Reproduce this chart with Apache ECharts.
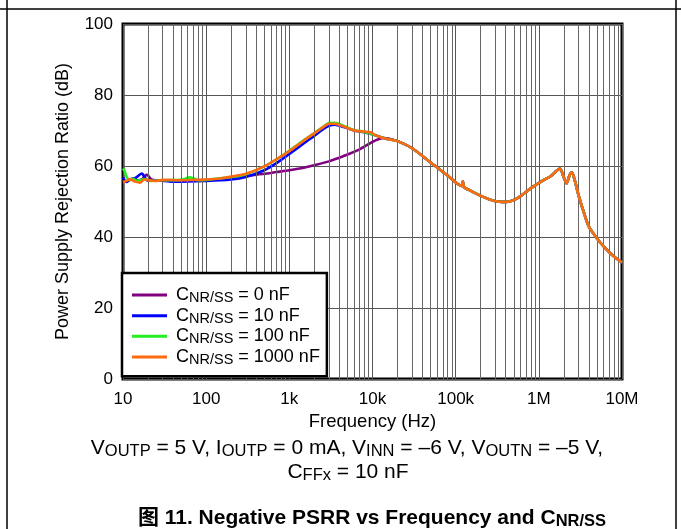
<!DOCTYPE html>
<html>
<head>
<meta charset="utf-8">
<script src="https://cdn.jsdelivr.net/npm/echarts@6/dist/echarts.min.js"></script>
<style>
html,body{margin:0;padding:0;background:#fff;}
#chart{width:681px;height:529px;}
</style>
</head>
<body>
<div id="chart"></div>
<script>
// ---- data ----
const tickValues = [10, 100, 1000, 10000, 100000, 1000000, 10000000];
const tickLabels = ['10', '100', '1k', '10k', '100k', '1M', '10M'];
const seriesNames = ['0 nF', '10 nF', '100 nF', '1000 nF'];
const seriesColors = ['#800080', '#0000ff', '#22ee22', '#ff6a10'];

// 0 nF (low/mid frequency part)
const freq0 = [10, 11, 13, 15, 17, 19, 20, 22, 25, 30, 40, 60, 100, 150, 200, 300, 500, 700, 1000, 1500, 2000, 3000, 4500, 7000, 10000, 12000, 13500, 16000];
const psrr0 = [56.0, 55.6, 56.4, 56.0, 56.3, 57.5, 57.3, 56.2, 56.0, 56.0, 55.9, 56.0, 56.0, 56.2, 56.5, 57.2, 57.8, 58.3, 58.8, 59.5, 60.2, 61.3, 62.8, 64.7, 66.8, 67.6, 67.9, 67.7];

// 10 nF
const freq10 = [10, 11, 12, 14, 16, 17, 18, 20, 25, 40, 100, 200, 300, 500, 700, 1000, 1500, 2000, 2500, 3000, 3500, 4500, 6000, 8000, 11000, 15000];
const psrr10 = [56.8, 55.5, 56.2, 56.6, 57.6, 57.9, 57.0, 55.8, 56.0, 55.6, 55.8, 56.2, 56.9, 58.8, 60.8, 63.4, 66.4, 68.5, 70.2, 71.3, 71.6, 71.0, 70.0, 69.5, 68.6, 67.6];

// 100 nF
const freq100 = [10, 10.5, 11, 12, 13, 15, 18, 22, 30, 50, 64, 80, 100, 200, 300, 500, 700, 1000, 1500, 2000, 2500, 3000, 3500, 4500, 6000, 8000, 11000, 15000];
const psrr100 = [59.3, 58.5, 57.0, 56.0, 56.4, 55.8, 56.3, 55.8, 56.0, 56.1, 56.8, 56.0, 56.1, 56.9, 57.7, 59.9, 61.9, 64.3, 67.3, 69.3, 70.9, 72.1, 72.2, 71.3, 70.1, 69.6, 68.6, 67.6];

// 1000 nF
const freq1000 = [10, 11, 12, 13, 14, 16, 18, 20, 25, 30, 50, 100, 150, 200, 300, 500, 700, 1000, 1500, 2000, 2500, 3000, 3500, 4500, 6000, 8000, 9500, 11000, 15000];
const psrr1000 = [55.4, 55.8, 56.3, 56.0, 55.6, 55.3, 56.2, 56.0, 55.8, 56.1, 56.0, 56.2, 56.5, 57.0, 57.8, 59.9, 61.9, 64.2, 67.2, 69.2, 70.8, 71.9, 71.9, 71.1, 70.0, 69.7, 69.5, 68.6, 67.6];

// shared high-frequency part (all curves coincide)
const freqHigh = [20000, 30000, 50000, 80000, 118000, 122000, 126000, 130000, 200000, 300000, 400000, 550000, 800000, 1100000, 1400000, 1650000, 1800000, 1950000, 2150000, 2350000, 2500000, 2700000, 3000000, 3500000, 4000000, 5000000, 6500000, 8000000, 10000000];
const psrrHigh = [67.0, 65.0, 61.0, 57.3, 54.4, 55.6, 54.0, 53.8, 51.6, 50.1, 49.9, 50.9, 53.7, 55.8, 57.2, 58.7, 59.3, 57.5, 55.1, 57.5, 58.2, 56.0, 51.8, 46.7, 42.9, 39.6, 36.5, 34.5, 32.8];

// ---- build ----
const FONT = '"Liberation Sans", Arial, "Noto Sans CJK SC", sans-serif';
function pairs(f, v) {
  const out = [];
  for (let i = 0; i < f.length; i++) out.push([f[i], v[i]]);
  for (let i = 0; i < freqHigh.length; i++) out.push([freqHigh[i], psrrHigh[i]]);
  return out;
}
const lowF = [freq0, freq10, freq100, freq1000];
const lowV = [psrr0, psrr10, psrr100, psrr1000];

const minorFreqs = [];
for (let d = 0; d < tickValues.length - 1; d++) {
  for (let m = 2; m <= 9; m++) minorFreqs.push(tickValues[d] * m);
}

const chart = echarts.init(document.getElementById('chart'), null, {renderer: 'canvas'});

const series = [{
  name: 'grid',
  type: 'line',
  data: [],
  z: 1,
  silent: true,
  markLine: {
    silent: true,
    symbol: 'none',
    animation: false,
    label: {show: false},
    lineStyle: {color: '#666', width: 1, type: 'solid'},
    data: minorFreqs.map(f => ({xAxis: f}))
  }
}];
for (let i = 0; i < 4; i++) {
  series.push({
    name: seriesNames[i],
    type: 'line',
    data: pairs(lowF[i], lowV[i]),
    showSymbol: false,
    smooth: 0.25,
    z: 2 + i,
    color: seriesColors[i],
    lineStyle: {width: 2.6, color: seriesColors[i]}
  });
}

const capRich = {
  m: {fontSize: 21, lineHeight: 24, fontFamily: FONT, fill: '#000'},
  s: {fontSize: 16.5, lineHeight: 16, verticalAlign: 'bottom', fontFamily: FONT, fill: '#000'}
};

const option = {
  animation: false,
  backgroundColor: '#fff',
  textStyle: {fontFamily: FONT},
  grid: {left: 123, top: 24, width: 499, height: 355, show: true, borderColor: '#000', borderWidth: 3, backgroundColor: '#fff'},
  xAxis: {
    type: 'log', logBase: 10, min: 10, max: 10000000, splitNumber: 6,
    axisLine: {show: false}, axisTick: {show: false},
    axisLabel: {
      margin: 12, fontSize: 17, color: '#000', fontFamily: FONT,
      formatter: v => { const k = Math.round(Math.log10(v)); const idx = tickValues.indexOf(Math.pow(10, k)); return idx >= 0 ? tickLabels[idx] : ''; }
    },
    splitLine: {show: true, lineStyle: {color: '#555', width: 1}},
    name: 'Frequency (Hz)', nameLocation: 'middle', nameGap: 32,
    nameTextStyle: {fontSize: 18.5, color: '#000', fontFamily: FONT}
  },
  yAxis: {
    type: 'value', min: 0, max: 100, interval: 20,
    axisLine: {show: false}, axisTick: {show: false},
    axisLabel: {margin: 10, fontSize: 17, color: '#000', fontFamily: FONT},
    splitLine: {show: true, lineStyle: {color: '#555', width: 1}},
    name: 'Power Supply Rejection Ratio (dB)', nameLocation: 'middle', nameGap: 51,
    nameTextStyle: {fontSize: 18, color: '#000', fontFamily: FONT}
  },
  legend: {
    data: seriesNames,
    orient: 'vertical',
    left: 122, top: 273,
    padding: [13, 7, 9, 10],
    itemGap: 1.3,
    itemWidth: 35, itemHeight: 3,
    itemTextGap: 5,
    icon: 'rect',
    backgroundColor: '#fff',
    borderColor: '#000', borderWidth: 2.5,
    z: 10,
    formatter: name => '{g| }{m|C}{s|NR/SS}{m| = ' + name + '}',
    textStyle: {
      color: '#000', fontFamily: FONT,
      rich: {
        g: {width: 4, fontSize: 18, lineHeight: 20.7},
        m: {fontSize: 18, lineHeight: 20.7, fontFamily: FONT, color: '#000'},
        s: {fontSize: 14.5, lineHeight: 13, verticalAlign: 'bottom', fontFamily: FONT, color: '#000'}
      }
    }
  },
  graphic: [
    {type: 'line', silent: true, shape: {x1: 7, y1: 0, x2: 7, y2: 529}, style: {stroke: '#000', lineWidth: 1.5}},
    {type: 'line', silent: true, shape: {x1: 676, y1: 0, x2: 676, y2: 529}, style: {stroke: '#000', lineWidth: 1.5}},
    {type: 'line', silent: true, shape: {x1: 0, y1: 9, x2: 681, y2: 9}, style: {stroke: '#000', lineWidth: 1.5}},
    {type: 'text', silent: true, x: 347, y: 448, style: {
      text: '{m|V}{s|OUTP}{m| = 5 V, I}{s|OUTP}{m| = 0 mA, V}{s|INN}{m| = \u20136 V, V}{s|OUTN}{m| = \u20135 V,}',
      align: 'center', verticalAlign: 'middle', rich: capRich
    }},
    {type: 'text', silent: true, x: 348, y: 472, style: {
      text: '{m|C}{s|FFx}{m| = 10 nF}',
      align: 'center', verticalAlign: 'middle', rich: capRich
    }},
    {type: 'text', silent: true, x: 372, y: 518, style: {
      text: '{m|\u56fe 11. Negative PSRR vs Frequency and C}{s|NR/SS}',
      align: 'center', verticalAlign: 'middle',
      rich: {
        m: {fontSize: 21, fontWeight: 'bold', lineHeight: 24, fontFamily: FONT, fill: '#000'},
        s: {fontSize: 16.5, fontWeight: 'bold', lineHeight: 16, verticalAlign: 'bottom', fontFamily: FONT, fill: '#000'}
      }
    }}
  ],
  series: series
};
chart.setOption(option);
</script>
</body>
</html>
